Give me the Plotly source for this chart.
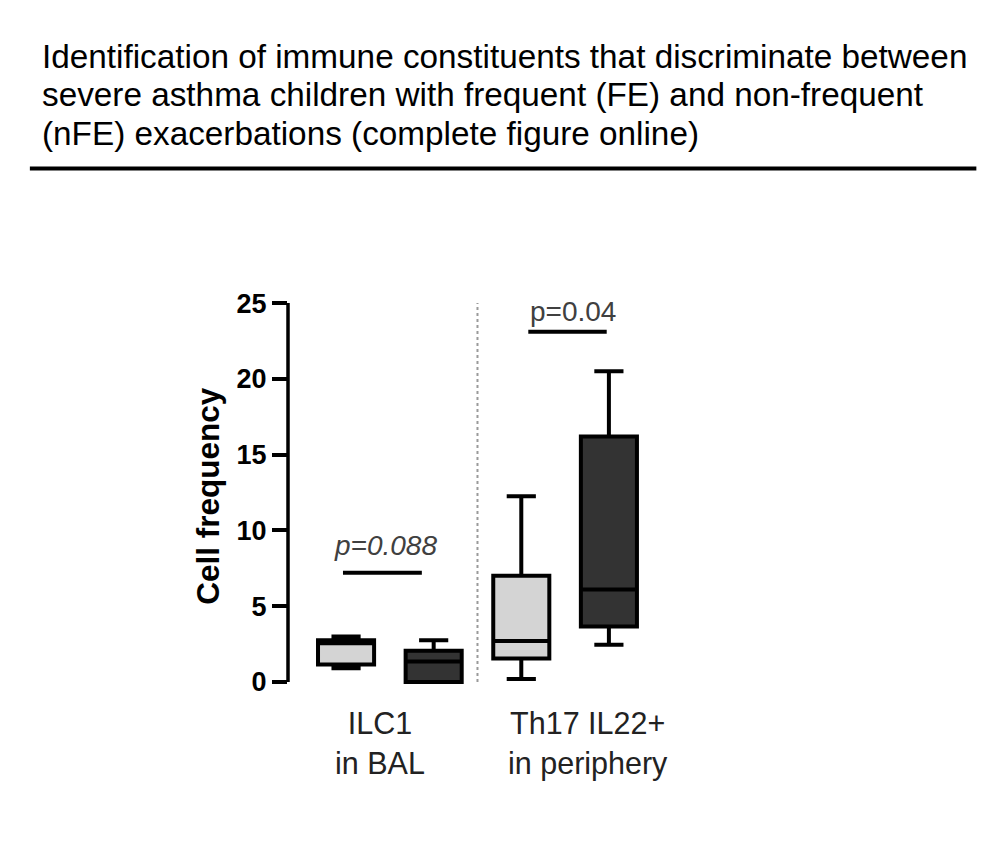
import plotly.graph_objects as go

# ---- data ----
groups = ["ILC1 nFE", "ILC1 FE", "Th17 IL22+ nFE", "Th17 IL22+ FE"]
positions = [0, 1, 2, 3]
lower = [0.9, 0.0, 0.2, 2.45]
q1 = [1.15, 0.0, 1.55, 3.65]
median = [2.55, 1.35, 2.7, 6.1]
q3 = [2.75, 2.05, 7.0, 16.2]
upper = [3.0, 2.75, 12.25, 20.5]
fills = ["#d4d4d4", "#333333", "#d4d4d4", "#333333"]

category_labels = ["ILC1<br>in BAL", "Th17 IL22+<br>in periphery"]
category_label_x = [0.39, 2.76]

p_texts = ["p=0.088", "p=0.04"]
p_bracket_x0 = [-0.035, 2.08]
p_bracket_x1 = [0.865, 2.975]
p_bracket_y = [7.2, 23.1]
p_text_x = [0.445, 2.59]
p_text_y = [9.0, 24.45]
p_italic = [True, False]

y_ticks = [0, 5, 10, 15, 20, 25]

title_lines = [
    "Identification of immune constituents that discriminate between",
    "severe asthma children with frequent (FE) and non-frequent",
    "(nFE) exacerbations (complete figure online)",
]

FONT = "Arial, Liberation Sans, sans-serif"

# ---- layout geometry (figure pixels) ----
L, R, T, B = 280, 329.2, 288.6, 165.2
W, H = 1000, 845
PW = W - L - R
PH = H - T - B


def px_x(fx):
    return (fx - L) / PW


def px_y(fy):
    return (H - B - fy) / PH


fig = go.Figure()
for i in range(len(groups)):
    fig.add_trace(go.Box(
        x=[positions[i]], q1=[q1[i]], median=[median[i]], q3=[q3[i]],
        lowerfence=[lower[i]], upperfence=[upper[i]],
        width=0.64, whiskerwidth=0.52, boxpoints=False,
        fillcolor=fills[i], line=dict(color="black", width=4),
        name=groups[i], showlegend=False, hoverinfo="skip",
    ))

shapes = []
# y axis line from 0 to 25
shapes.append(dict(type="line", xref="paper", yref="y", x0=0, x1=0,
                   y0=y_ticks[0], y1=y_ticks[-1], line=dict(color="black", width=3.5)))
# dotted separator
shapes.append(dict(type="line", xref="x", yref="y", x0=1.5, x1=1.5,
                   y0=y_ticks[0], y1=y_ticks[-1], line=dict(color="#9a9a9a", width=2, dash="dot")))
# brackets
for i in range(len(p_texts)):
    shapes.append(dict(type="line", xref="x", yref="y", x0=p_bracket_x0[i], x1=p_bracket_x1[i],
                       y0=p_bracket_y[i], y1=p_bracket_y[i], line=dict(color="black", width=4)))
# title rule
shapes.append(dict(type="line", xref="paper", yref="paper", x0=px_x(22), x1=px_x(968),
                   y0=px_y(160), y1=px_y(160), line=dict(color="black", width=4)))

annotations = []
for i, line in enumerate(title_lines):
    annotations.append(dict(x=px_x(32), y=px_y(48 + 38.3 * i), xref="paper", yref="paper",
                            text=line, showarrow=False, xanchor="left", yanchor="middle",
                            font=dict(family=FONT, size=33.3, color="black")))
for i in range(len(p_texts)):
    txt = "<i>%s</i>" % p_texts[i] if p_italic[i] else p_texts[i]
    annotations.append(dict(x=p_text_x[i], y=p_text_y[i], xref="x", yref="y", text=txt,
                            showarrow=False, xanchor="center", yanchor="middle",
                            font=dict(family=FONT, size=28, color="#404040")))
for i in range(len(category_labels)):
    annotations.append(dict(x=category_label_x[i], y=px_y(696), xref="x", yref="paper",
                            text=category_labels[i], showarrow=False,
                            xanchor="center", yanchor="top",
                            font=dict(family=FONT, size=30.5, color="#222222")))
annotations.append(dict(x=px_x(200.5), y=px_y(487), xref="paper", yref="paper",
                        text="<b>Cell frequency</b>",
                        textangle=-90, showarrow=False, xanchor="center", yanchor="middle",
                        font=dict(family=FONT, size=31.5, color="black")))

fig.update_layout(
    width=W, height=H,
    margin=dict(l=L, r=R, t=T, b=B, autoexpand=False),
    paper_bgcolor="white", plot_bgcolor="white",
    xaxis=dict(range=[-0.6625, 3.8], showgrid=False, zeroline=False, showline=False,
               showticklabels=False, ticks=""),
    yaxis=dict(range=[-0.4, 25.4], showgrid=False, zeroline=False, showline=False,
               tickvals=y_ticks, ticktext=["<b>%d</b>" % v for v in y_ticks],
               ticks="outside", ticklen=15, tickwidth=3.5, tickcolor="black",
               tickfont=dict(family=FONT, size=27, color="black")),
    shapes=shapes, annotations=annotations,
)

fig.write_html("out.html")
